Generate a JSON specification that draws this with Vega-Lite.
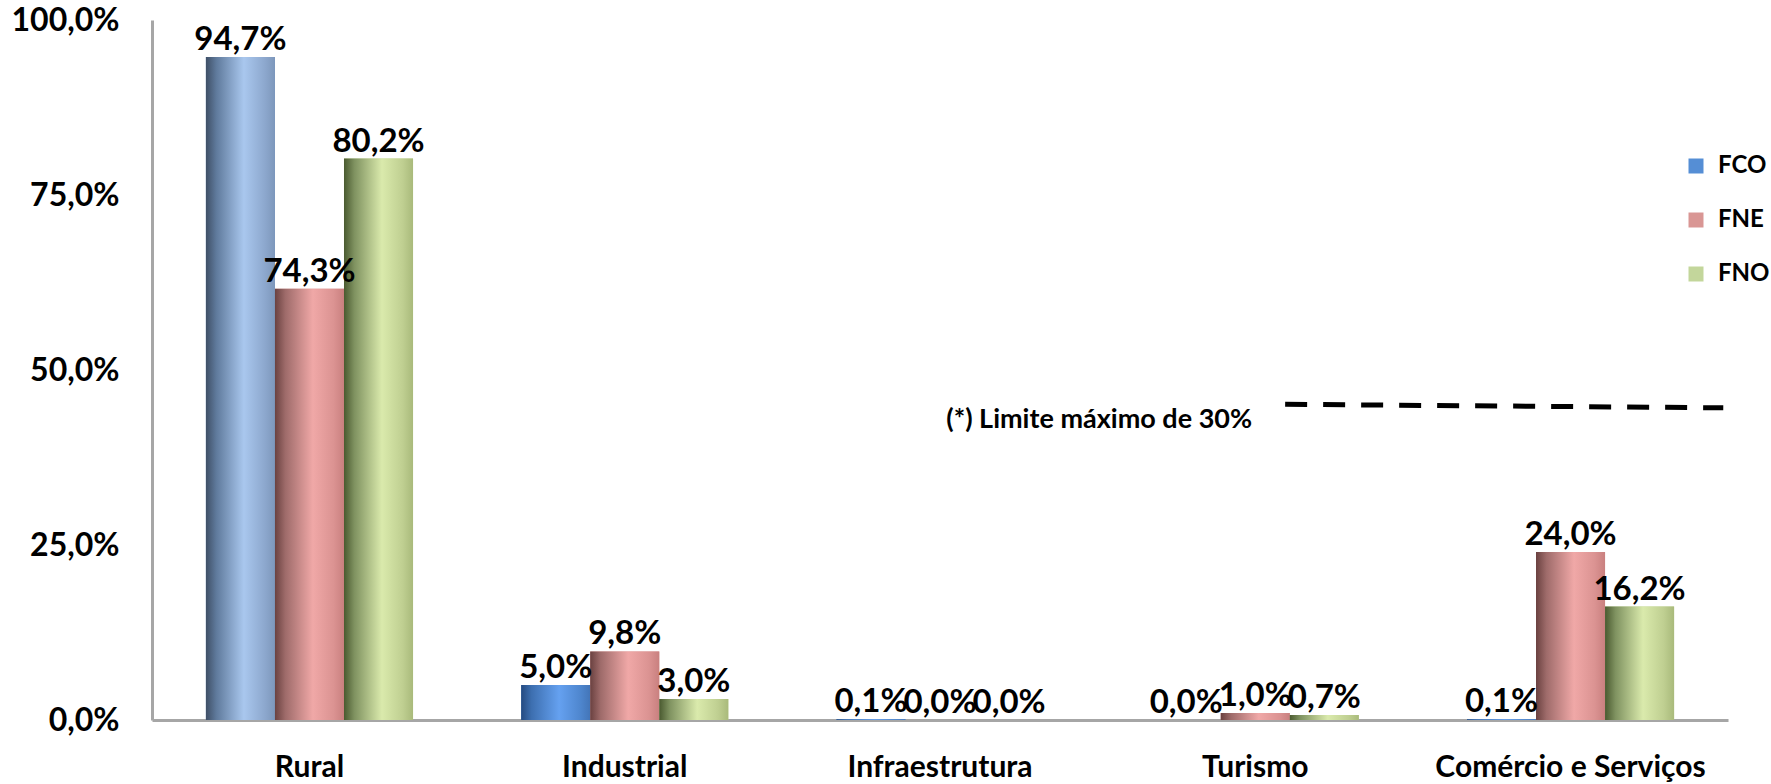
{
  "$schema": "https://vega.github.io/schema/vega-lite/v6.json",
  "width": 1576,
  "height": 700,
  "autosize": {"type": "none"},
  "padding": {"left": 152, "top": 20, "right": 43, "bottom": 64},
  "background": "white",
  "config": {"view": {"stroke": null}, "font": "Lato"},
  "data": {
    "values": [
      {"categoria": "Rural", "serie": "FCO", "altura": 94.7, "rotulo": "94,7%"},
      {"categoria": "Rural", "serie": "FNE", "altura": 61.6, "rotulo": "74,3%"},
      {"categoria": "Rural", "serie": "FNO", "altura": 80.2, "rotulo": "80,2%"},
      {"categoria": "Industrial", "serie": "FCO", "altura": 5.0, "rotulo": "5,0%"},
      {"categoria": "Industrial", "serie": "FNE", "altura": 9.8, "rotulo": "9,8%"},
      {"categoria": "Industrial", "serie": "FNO", "altura": 3.0, "rotulo": "3,0%"},
      {"categoria": "Infraestrutura", "serie": "FCO", "altura": 0.1, "rotulo": "0,1%"},
      {"categoria": "Infraestrutura", "serie": "FNE", "altura": 0.0, "rotulo": "0,0%"},
      {"categoria": "Infraestrutura", "serie": "FNO", "altura": 0.0, "rotulo": "0,0%"},
      {"categoria": "Turismo", "serie": "FCO", "altura": 0.0, "rotulo": "0,0%"},
      {"categoria": "Turismo", "serie": "FNE", "altura": 1.0, "rotulo": "1,0%"},
      {"categoria": "Turismo", "serie": "FNO", "altura": 0.7, "rotulo": "0,7%"},
      {"categoria": "Comércio e Serviços", "serie": "FCO", "altura": 0.1, "rotulo": "0,1%"},
      {"categoria": "Comércio e Serviços", "serie": "FNE", "altura": 24.0, "rotulo": "24,0%"},
      {"categoria": "Comércio e Serviços", "serie": "FNO", "altura": 16.2, "rotulo": "16,2%"}
    ]
  },
  "layer": [
    {
      "encoding": {
        "x": {
          "field": "categoria",
          "type": "nominal",
          "sort": ["Rural", "Industrial", "Infraestrutura", "Turismo", "Comércio e Serviços"],
          "scale": {"domain": ["Rural", "Industrial", "Infraestrutura", "Turismo", "Comércio e Serviços"], "paddingInner": 0.343, "paddingOuter": 0.171},
          "axis": {"title": null, "ticks": false, "labelAngle": 0, "labelLimit": 0, "domainColor": "#A6A6A6", "domainWidth": 3, "labelFont": "Lato", "labelFontWeight": "bold", "labelFontSize": 30, "labelColor": "black", "labelPadding": 32}
        },
        "xOffset": {
          "field": "serie",
          "type": "nominal",
          "scale": {"domain": ["FCO", "FNE", "FNO"], "paddingInner": 0, "paddingOuter": 0}
        },
        "y": {
          "field": "altura",
          "type": "quantitative",
          "scale": {"domain": [0, 100], "nice": false},
          "axis": {"values": [0, 25, 50, 75, 100], "labelExpr": "replace(format(datum.value,'.1f'),'.',',')+'%'", "title": null, "grid": false, "ticks": false, "domainColor": "#A6A6A6", "domainWidth": 3, "labelFont": "Lato", "labelFontWeight": "bold", "labelFontSize": 32, "labelColor": "black", "labelPadding": 33}
        }
      },
      "layer": [
        {
          "mark": {"type": "bar"},
          "encoding": {
            "color": {
              "field": "serie",
              "type": "nominal",
              "scale": {"domain": ["FCO", "FNE", "FNO"], "range": ["#558ED5", "#D99694", "#C3D69B"]},
              "legend": {"title": null, "orient": "none", "legendX": 1532, "legendY": 134, "direction": "vertical", "symbolType": "square", "symbolSize": 225, "symbolStrokeWidth": 0, "labelFont": "Lato", "labelFontWeight": "bold", "labelFontSize": 24, "labelColor": "black", "rowPadding": 30, "labelOffset": 10, "padding": 0}
            }
          }
        },
        {
          "transform": [{"filter": "datum.serie === 'FCO' && datum.categoria === 'Rural'"}],
          "mark": {"type": "bar", "color": {"gradient": "linear", "x1": 0, "x2": 1, "y1": 0, "y2": 0, "stops": [
            {"offset": 0, "color": "#3F4F66"},
            {"offset": 0.15, "color": "#5F7A9C"},
            {"offset": 0.55, "color": "#A9C7EE"},
            {"offset": 0.85, "color": "#8DA8CE"},
            {"offset": 1, "color": "#7D97BB"}
          ]}}
        },
        {
          "transform": [{"filter": "datum.serie === 'FCO' && datum.categoria !== 'Rural'"}],
          "mark": {"type": "bar", "color": {"gradient": "linear", "x1": 0, "x2": 1, "y1": 0, "y2": 0, "stops": [
            {"offset": 0, "color": "#244A80"},
            {"offset": 0.15, "color": "#3D6FB0"},
            {"offset": 0.55, "color": "#65A1F0"},
            {"offset": 0.85, "color": "#4F87CF"},
            {"offset": 1, "color": "#4375B8"}
          ]}}
        },
        {
          "transform": [{"filter": "datum.serie === 'FNE'"}],
          "mark": {"type": "bar", "color": {"gradient": "linear", "x1": 0, "x2": 1, "y1": 0, "y2": 0, "stops": [
            {"offset": 0, "color": "#6A4140"},
            {"offset": 0.15, "color": "#9E6B6A"},
            {"offset": 0.55, "color": "#F0A8A7"},
            {"offset": 0.85, "color": "#DB9392"},
            {"offset": 1, "color": "#C9807F"}
          ]}}
        },
        {
          "transform": [{"filter": "datum.serie === 'FNO'"}],
          "mark": {"type": "bar", "color": {"gradient": "linear", "x1": 0, "x2": 1, "y1": 0, "y2": 0, "stops": [
            {"offset": 0, "color": "#4A5A30"},
            {"offset": 0.15, "color": "#7F9260"},
            {"offset": 0.55, "color": "#DAEAAC"},
            {"offset": 0.85, "color": "#BFCF91"},
            {"offset": 1, "color": "#A9BA7B"}
          ]}}
        },
        {
          "mark": {"type": "text", "font": "Lato", "fontWeight": "bold", "fontSize": 33, "baseline": "alphabetic", "align": "center", "dy": -7, "color": "black"},
          "encoding": {"text": {"field": "rotulo", "type": "nominal"}}
        }
      ]
    },
    {
      "data": {"values": [{}]},
      "layer": [
        {
          "mark": {"type": "rule", "strokeDash": [22, 16], "strokeWidth": 5, "color": "black"},
          "encoding": {
            "x": {"datum": 0.719, "type": "quantitative", "scale": {"domain": [0, 1]}, "axis": null},
            "x2": {"datum": 0.997},
            "y": {"datum": 45.1, "type": "quantitative"},
            "y2": {"datum": 44.6}
          }
        },
        {
          "mark": {"type": "text", "text": "(*) Limite máximo de 30%", "font": "Lato", "fontWeight": "bold", "fontSize": 27, "align": "center", "baseline": "middle", "color": "black"},
          "encoding": {
            "x": {"datum": 0.601, "type": "quantitative", "scale": {"domain": [0, 1]}, "axis": null},
            "y": {"datum": 42.9, "type": "quantitative"}
          }
        }
      ]
    }
  ],
  "resolve": {"scale": {"x": "independent"}, "axis": {"x": "independent"}}
}
